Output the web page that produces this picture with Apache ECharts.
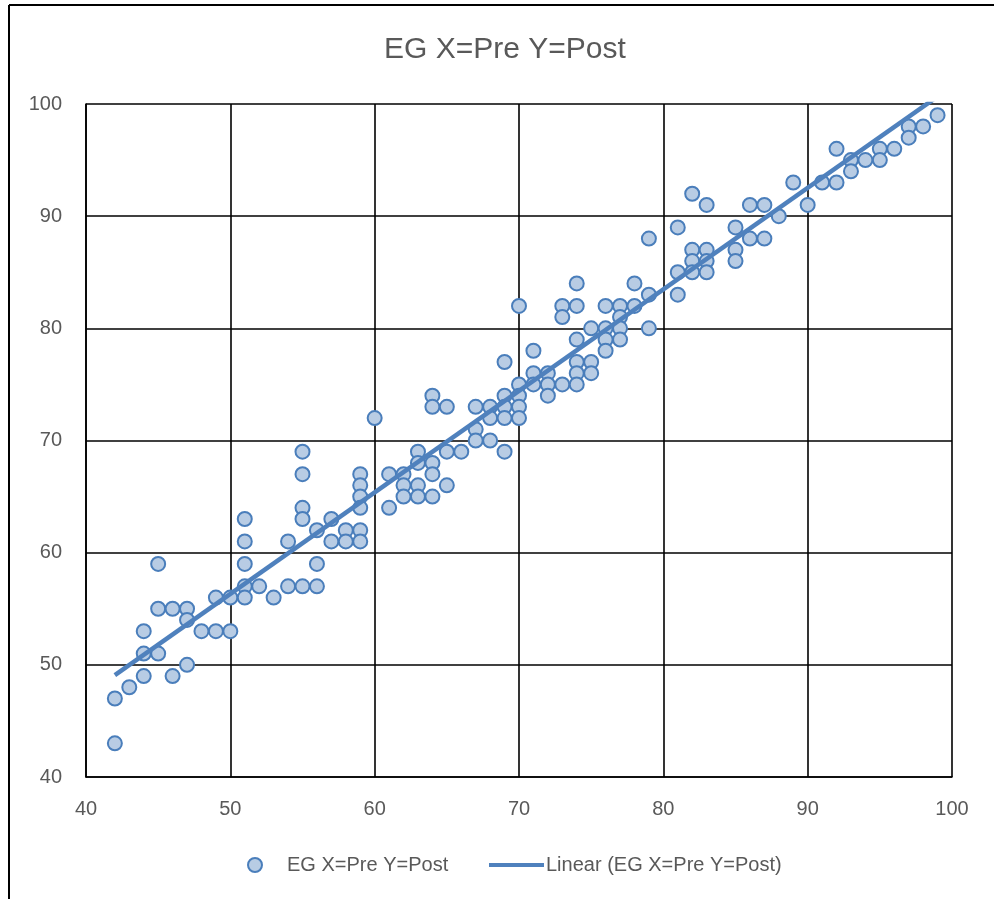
<!DOCTYPE html>
<html>
<head>
<meta charset="utf-8">
<script src="https://cdn.jsdelivr.net/npm/echarts@6/dist/echarts.min.js"></script>
<style>
html,body{margin:0;padding:0;background:#fff;}
#chart{width:994px;height:899px;}
</style>
</head>
<body>
<div id="chart"></div>
<script>
// Pre scores (x) and Post scores (y)
const preX = [
  42,42, 43, 44,44,44, 45,45,45, 46,46, 47,47,47, 48, 49,49, 50,50,
  51,51,51,51,51, 52, 53, 54,54, 55,55,55,55,55, 56,56,56, 57,57, 58,58,
  59,59,59,59,59,59, 60, 61,61, 62,62,62, 63,63,63,63, 64,64,64,64,64,
  65,65,65, 66, 67,67,67, 68,68,68, 69,69,69,69,69, 70,70,70,70,70,
  71,71,71, 72,72,72, 73,73,73, 74,74,74,74,74,74, 75,75,75, 76,76,76,76,
  77,77,77,77, 78,78, 79,79,79, 81,81,81, 82,82,82,82, 83,83,83,83,
  85,85,85, 86,86, 87,87, 88, 89, 90, 91, 92,92, 93,93, 94, 95,95, 96,
  97,97, 98, 99
];
const postY = [
  47,43, 48, 53,51,49, 59,55,51, 55,49, 55,54,50, 53, 56,53, 56,53,
  63,61,59,57,56, 57, 56, 61,57, 69,67,64,63,57, 62,59,57, 63,61, 62,61,
  67,66,65,64,62,61, 72, 67,64, 67,66,65, 69,68,66,65, 74,73,68,67,65,
  73,69,66, 69, 73,71,70, 73,72,70, 77,74,73,72,69, 82,75,74,73,72,
  78,76,75, 76,75,74, 82,81,75, 84,82,79,77,76,75, 80,77,76, 82,80,79,78,
  82,81,80,79, 84,82, 88,83,80, 89,85,83, 92,87,86,85, 91,87,86,85,
  89,87,86, 91,88, 91,88, 90, 93, 91, 93, 96,93, 95,94, 95, 96,95, 96,
  98,97, 98, 99
];
const axisTicks = [40, 50, 60, 70, 80, 90, 100];
const titleText = 'EG X=Pre Y=Post';
const seriesName = 'EG X=Pre Y=Post';
const trendName = 'Linear (EG X=Pre Y=Post)';

const points = preX.map((x, i) => [x, postY[i]]);

// least-squares linear trendline (as Excel computes it)
const n = preX.length;
const mx = preX.reduce((a, b) => a + b, 0) / n;
const my = postY.reduce((a, b) => a + b, 0) / n;
let sxy = 0, sxx = 0;
for (let i = 0; i < n; i++) { sxy += (preX[i] - mx) * (postY[i] - my); sxx += (preX[i] - mx) ** 2; }
const slope = sxy / sxx;
const intercept = my - slope * mx;
const xMin = Math.min(...preX), xMax = Math.max(...preX);
const trend = [[xMin, intercept + slope * xMin], [xMax, intercept + slope * xMax]];

const FONT = '"Liberation Sans", Arial, sans-serif';
const TXT = '#595959';

const chart = echarts.init(document.getElementById('chart'));
chart.setOption({
  animation: false,
  backgroundColor: '#ffffff',
  title: {
    text: titleText,
    left: 379,
    top: 30,
    textStyle: { fontFamily: FONT, fontSize: 30, fontWeight: 'normal', color: TXT }
  },
  graphic: [
    { type: 'line', shape: { x1: 9, y1: 5, x2: 9, y2: 899 }, style: { stroke: '#000', lineWidth: 2 } },
    { type: 'line', shape: { x1: 9, y1: 5, x2: 994, y2: 5 }, style: { stroke: '#000', lineWidth: 2 } }
  ],
  legend: [
    {
      data: [{ name: seriesName, icon: 'circle' }],
      left: 242, top: 850,
      itemWidth: 14, itemHeight: 14,
      textStyle: { fontFamily: FONT, fontSize: 20, color: TXT, padding: [0, 0, 0, 20] }
    },
    {
      data: [{ name: trendName, icon: 'rect' }],
      left: 484, top: 850,
      itemWidth: 55, itemHeight: 4,
      textStyle: { fontFamily: FONT, fontSize: 20, color: TXT, padding: [0, 0, 0, -3] }
    }
  ],
  grid: { left: 86, right: 42, top: 104, bottom: 122, containLabel: false },
  xAxis: {
    type: 'value', min: 40, max: 100, interval: 10,
    axisLine: { show: true, lineStyle: { color: '#000', width: 1.6 } },
    axisTick: { show: false },
    splitLine: { show: true, lineStyle: { color: '#000', width: 1.6 } },
    axisLabel: { margin: 22, fontFamily: FONT, fontSize: 20, color: TXT,
      formatter: v => axisTicks.includes(v) ? String(v) : '' }
  },
  yAxis: {
    type: 'value', min: 40, max: 100, interval: 10,
    axisLine: { show: true, lineStyle: { color: '#000', width: 1.6 } },
    axisTick: { show: false },
    splitLine: { show: true, lineStyle: { color: '#000', width: 1.6 } },
    axisLabel: { margin: 24, fontFamily: FONT, fontSize: 20, color: TXT,
      formatter: v => axisTicks.includes(v) ? String(v) : '' }
  },
  series: [
    {
      name: seriesName,
      type: 'scatter',
      data: points,
      symbol: 'circle',
      symbolSize: 14,
      itemStyle: { color: '#b8cce4', borderColor: '#4a7ebb', borderWidth: 2, opacity: 1 },
      z: 3
    },
    {
      name: trendName,
      type: 'line',
      data: trend,
      showSymbol: false,
      symbol: 'none',
      lineStyle: { color: '#4f81bd', width: 4.5 },
      itemStyle: { color: '#4f81bd' },
      z: 4
    }
  ]
});
</script>
</body>
</html>
